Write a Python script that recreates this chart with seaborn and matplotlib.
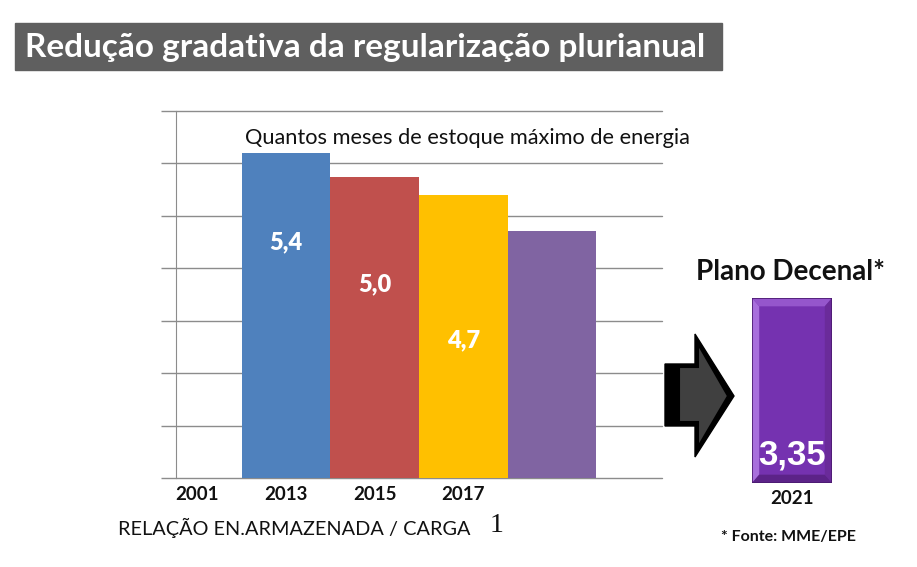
import numpy as np
import pandas as pd
import matplotlib
matplotlib.use("Agg")
import matplotlib.pyplot as plt
from matplotlib.patches import Rectangle, Polygon
import seaborn as sns

# dados
anos = ["2001", "2013", "2015", "2017", ""]
valores = [np.nan, 5.4, 5.0, 4.7, 4.1]
rotulos = ["", "5,4", "5,0", "4,7", ""]
rotulo_y = [0, 3.92, 3.22, 2.29, 0]
cores = {"2001": "#ffffff", "2013": "#4f81bd", "2015": "#c0504d", "2017": "#ffc000", "": "#8064a2"}

plano_ano = ["2021"]
plano_valor = [3.35]
plano_rotulo = "3,35"

W, H = 917, 567
sns.set_style("white")
plt.rcParams["font.family"] = ["Lato", "DejaVu Sans"]

fig = plt.figure(figsize=(W / 100, H / 100), dpi=100)

def fx(px):
    return px / W

def fy(py):
    return 1 - py / H

# barra do titulo
fig.patches.append(Rectangle((fx(15), fy(70)), fx(722) - fx(15), 47 / H,
                             transform=fig.transFigure, color="#5f5f5f", zorder=0))
fig.text(fx(25), fy(48), "Redução gradativa da regularização plurianual",
         color="white", fontsize=24, fontweight="bold", va="center", ha="left")

# grafico principal
ax = fig.add_axes([fx(176), fy(478), fx(662) - fx(176), (478 - 111) / H])
df = pd.DataFrame({"ano": anos, "valor": valores})
sns.barplot(data=df, x="ano", y="valor", hue="ano", palette=cores, order=anos,
            hue_order=anos, width=1.0, linewidth=0, saturation=1, legend=False, ax=ax)
ax.set_xlim(-0.24, 5.24)
ax.set_ylim(0, 6.1)
ax.set_yticks(np.linspace(0, 6.1, 8))
ax.yaxis.grid(True, color="#8c8c8c", linewidth=1)
for gl in ax.get_ygridlines():
    gl.set_clip_on(False)
ax.set_axisbelow(True)
ax.tick_params(axis="y", length=11, width=1, color="#8c8c8c", labelleft=False, left=True)
ax.tick_params(axis="x", length=0, pad=6)
ax.set_xticks(range(len(anos)))
ax.set_xticklabels(anos, fontsize=13.5, fontweight="bold", color="#111111")
for s in ["top", "right", "bottom"]:
    ax.spines[s].set_visible(False)
ax.spines["left"].set_color("#8c8c8c")
ax.set_xlabel("")
ax.set_ylabel("")

for i, (txt, yy) in enumerate(zip(rotulos, rotulo_y)):
    if txt:
        ax.text(i, yy, txt, color="white", fontsize=17, fontweight="heavy",
                ha="center", va="center")

fig.text(fx(245), fy(138), "Quantos meses de estoque máximo de energia",
         fontsize=15.7, ha="left", va="center", color="#111111")
fig.text(fx(118), fy(528), "RELAÇÃO EN.ARMAZENADA / CARGA",
         fontsize=14.3, ha="left", va="center", color="#111111")
fig.text(fx(490), fy(526), "1", fontsize=20, family="Liberation Serif",
         ha="left", va="center", color="#111111")

# seta
seta_sombra = [(665, 364), (695, 364), (695, 334), (734, 396), (695, 457), (695, 426), (665, 426)]
seta = [(679, 367), (698, 367), (698, 344), (728, 396), (698, 447), (698, 422), (679, 422)]
fig.patches.append(Polygon([(fx(a), fy(b)) for a, b in seta_sombra], closed=True,
                           transform=fig.transFigure, facecolor="black", edgecolor="black"))
fig.patches.append(Polygon([(fx(a), fy(b)) for a, b in seta], closed=True,
                           transform=fig.transFigure, facecolor="#404040", edgecolor="black", linewidth=1.5))

# plano decenal
ax2 = fig.add_axes([fx(752), fy(483), fx(832) - fx(752), (483 - 298) / H])
dfp = pd.DataFrame({"ano": plano_ano, "valor": plano_valor})
sns.barplot(data=dfp, x="ano", y="valor", color="#7532b0", width=1.0, saturation=1,
            edgecolor="#4b1a70", linewidth=1.2, ax=ax2)
ax2.set_xlim(-0.5, 0.5)
ax2.set_ylim(0, plano_valor[0])
ax2.set_yticks([])
ax2.tick_params(axis="x", length=0, pad=5)
ax2.set_xticklabels(plano_ano, fontsize=13.5, fontweight="bold", color="#111111")
ax2.set_xlabel("")
ax2.set_ylabel("")
for s in ax2.spines.values():
    s.set_visible(False)

p = ax2.patches[0]
x0, w, h = p.get_x(), p.get_width(), p.get_height()
dx, dy = 0.09 * w, 0.045 * h
x1 = x0 + w
bisel = [
    ([(x0, 0), (x0, h), (x0 + dx, h - dy), (x0 + dx, dy)], "#a86fdc"),
    ([(x0, h), (x1, h), (x1 - dx, h - dy), (x0 + dx, h - dy)], "#9556cc"),
    ([(x1, h), (x1, 0), (x1 - dx, dy), (x1 - dx, h - dy)], "#6a2b9a"),
    ([(x0, 0), (x1, 0), (x1 - dx, dy), (x0 + dx, dy)], "#5c2388"),
]
for pts, c in bisel:
    ax2.add_patch(Polygon(pts, closed=True, facecolor=c, edgecolor="none", zorder=3))
ax2.add_patch(Rectangle((x0, 0), w, h, fill=False, edgecolor="#4b1a70", linewidth=1.2, zorder=4))

ax2.text(0, 0.51, plano_rotulo, color="white", fontsize=25, fontweight="bold",
         family="Liberation Sans", ha="center", va="center", zorder=5)

fig.text(fx(791), fy(272), "Plano Decenal*", fontsize=20, fontweight="bold",
         ha="center", va="center", color="#111111")
fig.text(fx(788), fy(537), "* Fonte: MME/EPE", fontsize=11.5, fontweight="bold",
         ha="center", va="center", color="#111111")

fig.savefig("out.png", dpi=100)
